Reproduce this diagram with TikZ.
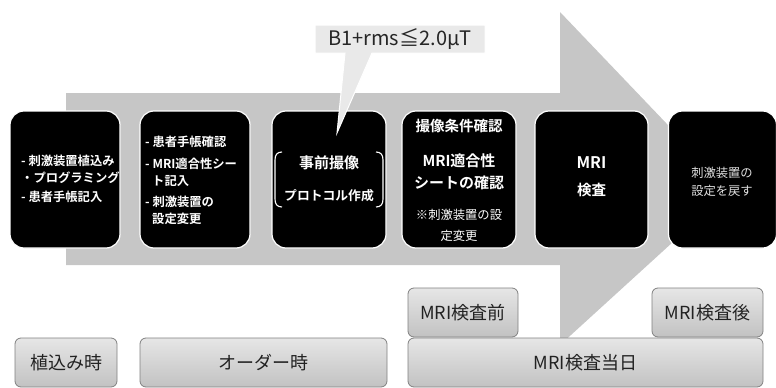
\documentclass[tikz,border=0pt]{standalone}
\usepackage{fontspec}
\setmainfont{Noto Sans CJK JP}[BoldFont={Noto Sans CJK JP Bold}]
\definecolor{arrowgray}{HTML}{C6C6C6}
\definecolor{calloutgray}{HTML}{E9E9E9}
\definecolor{labeltop}{HTML}{E6E6E6}
\definecolor{labelbot}{HTML}{C2C2C2}
\definecolor{labeledge}{HTML}{808080}
\definecolor{labeltext}{HTML}{222222}
\tikzset{
  blk/.style={fill=black, draw=white, line width=1.2pt, rounded corners=14pt, inner sep=0pt},
  wt/.style={text=white, inner sep=0pt, text height=0.88em, text depth=0.12em},
  wtb/.style={wt, font=\bfseries\fontsize{12.3}{14}\selectfont},
  lbl/.style={draw=labeledge, line width=0.8pt, rounded corners=6pt, top color=labeltop, bottom color=labelbot,
              text=labeltext, inner sep=0pt, font=\fontsize{18}{21}\selectfont, minimum height=49pt},
}
\begin{document}
\begin{tikzpicture}[x=1pt,y=-1pt]
\useasboundingbox (0,0) rectangle (776,388);
% big arrow
\fill[arrowgray] (66,93) -- (560,93) -- (560,12) -- (730,190) -- (560,345) -- (560,265) -- (66,265) -- cycle;
% black boxes
\node[blk, minimum width=110pt, minimum height=137pt] (b1) at (65,179.5) {};
\node[blk, minimum width=110pt, minimum height=137pt] (b2) at (195,179.5) {};
\node[blk, minimum width=114pt, minimum height=137pt] (b3) at (329,179.5) {};
\node[blk, minimum width=114pt, minimum height=137pt] (b4) at (459,179.5) {};
\node[blk, minimum width=113pt, minimum height=137pt] (b5) at (591.5,179.5) {};
\node[blk, minimum width=108pt, minimum height=137pt] (b6) at (722.5,179.5) {};
% box 1 text
\node[wtb, anchor=west] (t11) at (21,162) {- 刺激装置植込み};
\node[wtb, anchor=west] (t12) at (21,179) {・プログラミング};
\node[wtb, anchor=west] (t13) at (21,198) {- 患者手帳記入};
% box 2 text
\node[wtb, anchor=west] (t21) at (145,143) {- 患者手帳確認};
\node[wtb, anchor=west] (t22) at (145,165) {- MRI適合性シー};
\node[wtb, anchor=west] (t23) at (152,182) {ト記入};
\node[wtb, anchor=west] (t24) at (145,203) {- 刺激装置の};
\node[wtb, anchor=west] (t25) at (152,220) {設定変更};
% box 3 text
\node[wt, font=\bfseries\fontsize{15}{17}\selectfont] (t31) at (329,165) {事前撮像};
\node[wt, font=\bfseries\fontsize{12.8}{15}\selectfont] (t32) at (329,197) {プロトコル作成};
\draw[white, line width=1.1pt] (282,152) .. controls (277,152) and (275,155) .. (275,160) -- (275,199) .. controls (275,204) and (277,207) .. (282,207);
\draw[white, line width=1.1pt] (376,152) .. controls (381,152) and (383,155) .. (383,160) -- (383,199) .. controls (383,204) and (381,207) .. (376,207);
% box 4 text
\node[wt, font=\bfseries\fontsize{14.5}{16}\selectfont] (t41) at (459,128) {撮像条件確認};
\node[wt, font=\bfseries\fontsize{15}{17}\selectfont] (t42) at (459,163) {MRI適合性};
\node[wt, font=\bfseries\fontsize{15}{17}\selectfont] (t43) at (459,185) {シートの確認};
\node[wt, font=\fontsize{12.3}{14}\selectfont] (t44) at (459,216) {※刺激装置の設};
\node[wt, font=\fontsize{12.3}{14}\selectfont] (t45) at (459,237) {定変更};
% box 5 text
\node[wt, font=\bfseries\fontsize{16}{18}\selectfont] (t51) at (591.5,165) {MRI};
\node[wt, font=\bfseries\fontsize{14.5}{16}\selectfont] (t52) at (591.5,192) {検査};
% box 6 text
\node[wt, font=\fontsize{12.3}{14}\selectfont, text=white!88!black] (t61) at (722,174) {刺激装置の};
\node[wt, font=\fontsize{12.3}{14}\selectfont, text=white!88!black] (t62) at (722,192) {設定を戻す};
% callout
\filldraw[fill=calloutgray, draw=white, line width=1pt] (315,25) -- (485,25) -- (485,53) -- (372,53) -- (337,133) -- (345,53) -- (315,53) -- cycle;
\node[inner sep=0pt, font=\fontsize{20}{24}\selectfont, text=black!85] (co) at (400,39) {B1+rms≦2.0μT};
% bottom labels
\node[lbl, minimum width=102pt] (l1) at (66,362.5) {植込み時};
\node[lbl, minimum width=247pt] (l2) at (263.5,362.5) {オーダー時};
\node[lbl, minimum width=110pt] (l3) at (463,312.5) {MRI検査前};
\node[lbl, minimum width=111pt] (l4) at (707.5,312.5) {MRI検査後};
\node[lbl, minimum width=355pt] (l5) at (585.5,362.5) {MRI検査当日};
\end{tikzpicture}
\end{document}
